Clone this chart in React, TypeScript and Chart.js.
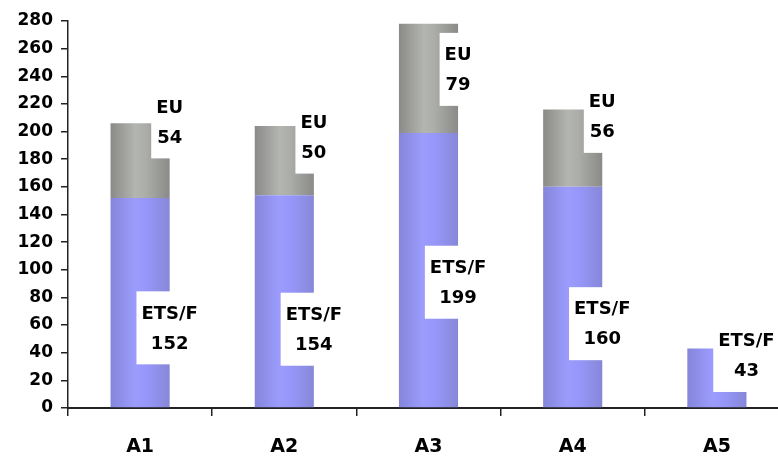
import React, { useEffect, useRef } from "react";
import { Chart, registerables } from "chart.js";

Chart.register(...registerables);

const categories = ["A1", "A2", "A3", "A4", "A5"];
const etsfValues: (number | null)[] = [152, 154, 199, 160, 43];
const euValues: (number | null)[] = [54, 50, 79, 56, null];
const etsfLabelAt: (number | null)[] = [58, 57, 91, 61, 38];
const euLabelAt: (number | null)[] = [207, 196, 245, 211, null];
const seriesNames = ["ETS/F", "EU"];
const yMin = 0;
const yMax = 280;
const yStep = 20;

const FONT = '"DejaVu Sans", sans-serif';
const BAR_PCT = 0.41;

function gradientFor(stops: [number, string][]) {
  return (c: any) => {
    const chart = c.chart;
    const xs = chart.scales?.x;
    if (!xs || !chart.chartArea) return stops[1][1];
    const cx = xs.getPixelForValue(c.dataIndex);
    const w = (xs.width / categories.length) * BAR_PCT;
    const g = chart.ctx.createLinearGradient(cx - w / 2, 0, cx + w / 2, 0);
    stops.forEach(([o, col]) => g.addColorStop(o, col));
    return g;
  };
}

const boxLabels = {
  id: "boxLabels",
  afterDatasetsDraw(chart: any) {
    const ctx = chart.ctx;
    const ys = chart.scales.y;
    const groups = [
      { name: seriesNames[0], values: etsfValues, at: etsfLabelAt },
      { name: seriesNames[1], values: euValues, at: euLabelAt },
    ];
    const base = chart.getDatasetMeta(0);
    ctx.save();
    ctx.font = `bold 18px ${FONT}`;
    ctx.textAlign = "center";
    ctx.textBaseline = "middle";
    groups.forEach((g) => {
      g.values.forEach((v, i) => {
        const at = g.at[i];
        if (v == null || at == null) return;
        const el = base.data[i];
        const cx = el.x + el.width / 2;
        const cy = ys.getPixelForValue(at);
        const l1 = g.name;
        const l2 = String(v);
        const w = Math.max(ctx.measureText(l1).width, ctx.measureText(l2).width) + 10;
        const h = 73;
        ctx.fillStyle = "#ffffff";
        ctx.fillRect(cx - w / 2, cy - h / 2, w, h);
        ctx.fillStyle = "#000000";
        ctx.fillText(l1, cx, cy - 14);
        ctx.fillText(l2, cx, cy + 16);
      });
    });
    ctx.restore();
  },
};

export default function App() {
  const ref = useRef<HTMLCanvasElement | null>(null);
  useEffect(() => {
    if (!ref.current) return;
    const chart = new Chart(ref.current, {
      type: "bar",
      data: {
        labels: categories,
        datasets: [
          {
            label: seriesNames[0],
            data: etsfValues,
            backgroundColor: gradientFor([
              [0, "#8585DA"],
              [0.42, "#9C9CFF"],
              [0.6, "#9797FA"],
              [1, "#8787D8"],
            ]),
            borderWidth: 0,
            categoryPercentage: 1,
            barPercentage: BAR_PCT,
          },
          {
            label: seriesNames[1],
            data: euValues,
            backgroundColor: gradientFor([
              [0, "#8A8B88"],
              [0.42, "#B3B5B1"],
              [0.6, "#ABADA9"],
              [1, "#8A8B88"],
            ]),
            borderWidth: 0,
            categoryPercentage: 1,
            barPercentage: BAR_PCT,
          },
        ],
      },
      options: {
        responsive: false,
        animation: false,
        devicePixelRatio: 1,
        layout: { padding: { top: 21, right: 11, left: 0, bottom: 0 } },
        plugins: { legend: { display: false }, tooltip: { enabled: false } },
        scales: {
          x: {
            stacked: true,
            offset: true,
            grid: {
              display: true,
              drawOnChartArea: false,
              drawTicks: true,
              tickLength: 8,
              offset: true,
              color: "#222222",
              lineWidth: 1.5,
            },
            border: { display: true, color: "#222222", width: 2 },
            ticks: {
              color: "#000000",
              font: { family: FONT, size: 19, weight: "bold" },
              padding: 20,
            },
            afterFit(s: any) {
              s.height = 49;
            },
          },
          y: {
            stacked: true,
            min: yMin,
            max: yMax,
            ticks: {
              stepSize: yStep,
              color: "#000000",
              font: { family: FONT, size: 17, weight: "bold" },
              padding: 8,
            },
            grid: {
              drawOnChartArea: false,
              drawTicks: true,
              tickLength: 7,
              color: "#222222",
              lineWidth: 1.5,
            },
            border: { display: true, color: "#222222", width: 1.5 },
            afterFit(s: any) {
              s.width = 68;
            },
          },
        },
      },
      plugins: [boxLabels],
    } as any);
    return () => chart.destroy();
  }, []);

  return (
    <div
      style={{
        position: "absolute",
        left: 0,
        top: 0,
        width: 778,
        height: 457,
        overflow: "hidden",
        background: "#ffffff",
      }}
    >
      <canvas ref={ref} width={800} height={457} style={{ width: 800, height: 457, display: "block" }} />
    </div>
  );
}
